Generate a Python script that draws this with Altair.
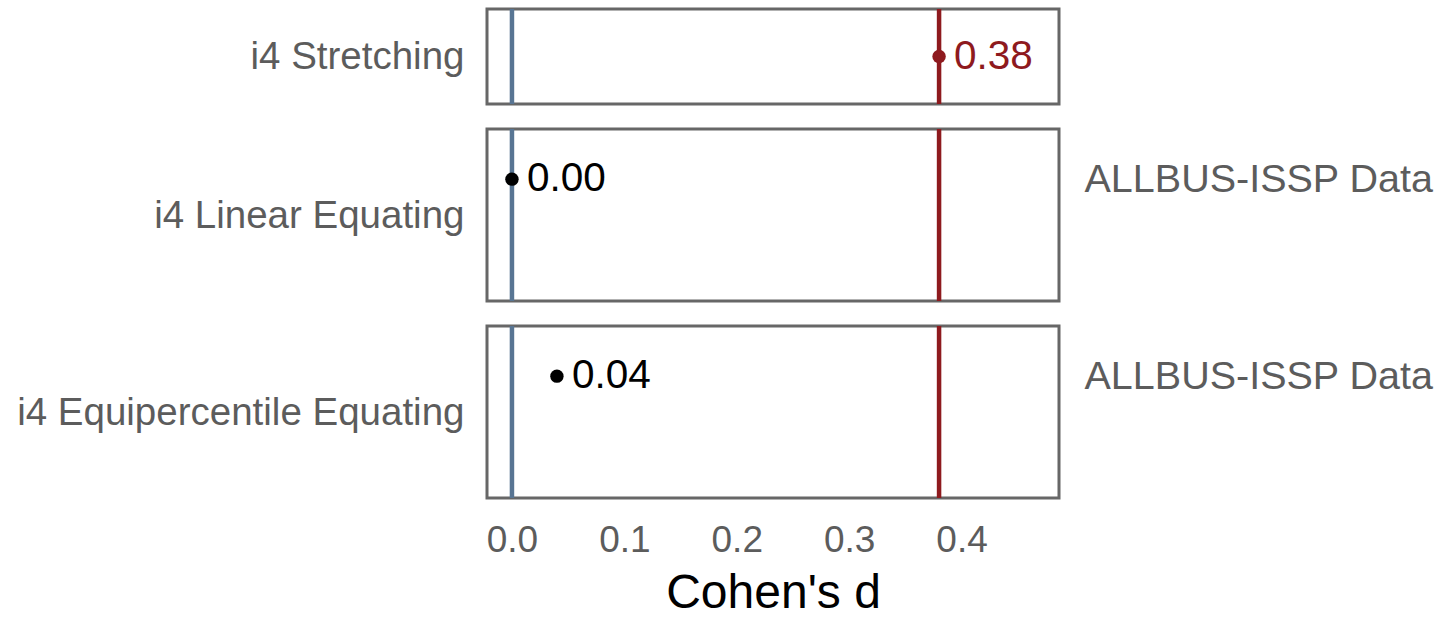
import altair as alt
import pandas as pd

# ---- data ----
methods = ["i4 Stretching", "i4 Linear Equating", "i4 Equipercentile Equating"]
cohens_d = [0.38, 0.00, 0.04]
sources = ["ALLBUS-ISSP Data", "ALLBUS-ISSP Data", "ALLBUS-ISSP Data"]
ref_values = [0.0, 0.38]
ref_names = ["no difference", "stretching"]
x_ticks = [0.0, 0.1, 0.2, 0.3, 0.4]

df = pd.DataFrame({"method": methods, "d": cohens_d, "source": sources})
refs = pd.DataFrame({"value": ref_values, "ref": ref_names})

FONT = "Liberation Sans"
GREY = "#5c5c5c"
BLUE = "#587593"
RED = "#8e1a1e"
XDOM = [-0.0222, 0.4867]
W = 572
HEIGHTS = [95, 172, 172]


def panel(i):
    m = methods[i]
    sub = df[df["method"] == m]
    h = HEIGHTS[i]
    last = i == len(methods) - 1
    if i == 0:
        ydom = [sources[i]]
        pad = 0.5
    else:
        ydom = [sources[i], " "]
        pad = 0.7
    yscale = alt.Scale(domain=ydom, type="point", padding=pad)
    xscale = alt.Scale(domain=XDOM, nice=False, zero=False)

    if last:
        xaxis = alt.Axis(
            values=x_ticks, format=".1f", ticks=False, domain=False, grid=False,
            labelFontSize=37, labelColor=GREY, labelFont=FONT, labelPadding=24,
            title="Cohen's d", titleFontSize=48, titleColor="black", titleFont=FONT,
            titleFontWeight="normal", titlePadding=11,
        )
    else:
        xaxis = None

    left_axis = alt.Axis(
        orient="left", labels=False, ticks=False, domain=False, grid=False,
        title=m, titleAngle=0, titleAlign="right", titleBaseline="middle",
        titleX=-23, titleY=h / 2, titleFontSize=38.5, titleColor=GREY,
        titleFont=FONT, titleFontWeight="normal", titleLimit=0,
    )
    right_axis = alt.Axis(
        orient="right", labels=(i != 0), ticks=False, domain=False, grid=False,
        title=None, labelFontSize=39.5, labelColor=GREY, labelFont=FONT,
        labelPadding=25, labelBaseline="middle", labelLimit=0,
    )

    rules = alt.Chart(refs).mark_rule(strokeWidth=4.5).encode(
        x=alt.X("value:Q", scale=xscale, axis=xaxis),
        color=alt.Color("ref:N", scale=alt.Scale(domain=ref_names, range=[BLUE, RED]), legend=None),
    )
    col = alt.condition(alt.datum.method == "i4 Stretching", alt.value(RED), alt.value("black"))
    pts = alt.Chart(sub).mark_circle(size=180, opacity=1).encode(
        x=alt.X("d:Q", scale=xscale, axis=xaxis),
        y=alt.Y("source:N", scale=yscale, axis=left_axis),
        color=col,
    )
    txt = alt.Chart(sub).mark_text(
        align="left", baseline="middle", dx=15, fontSize=40.5, font=FONT
    ).encode(
        x=alt.X("d:Q", scale=xscale, axis=xaxis),
        y=alt.Y("source:N", scale=yscale, axis=right_axis),
        text=alt.Text("d:Q", format=".2f"),
        color=col,
    )
    return (
        alt.layer(rules, pts, txt)
        .resolve_axis(y="independent")
        .properties(width=W, height=h)
    )


chart = (
    alt.vconcat(*[panel(i) for i in range(len(methods))], spacing=25, bounds="flush")
    .resolve_scale(y="independent", color="independent")
    .properties(
        padding={"left": 15, "top": 5, "right": 0, "bottom": 0},
        background="white",
    )
    .configure_view(stroke="#676767", strokeWidth=3)
)

chart.save("out.html", embed_options={"renderer": "svg", "actions": False})
